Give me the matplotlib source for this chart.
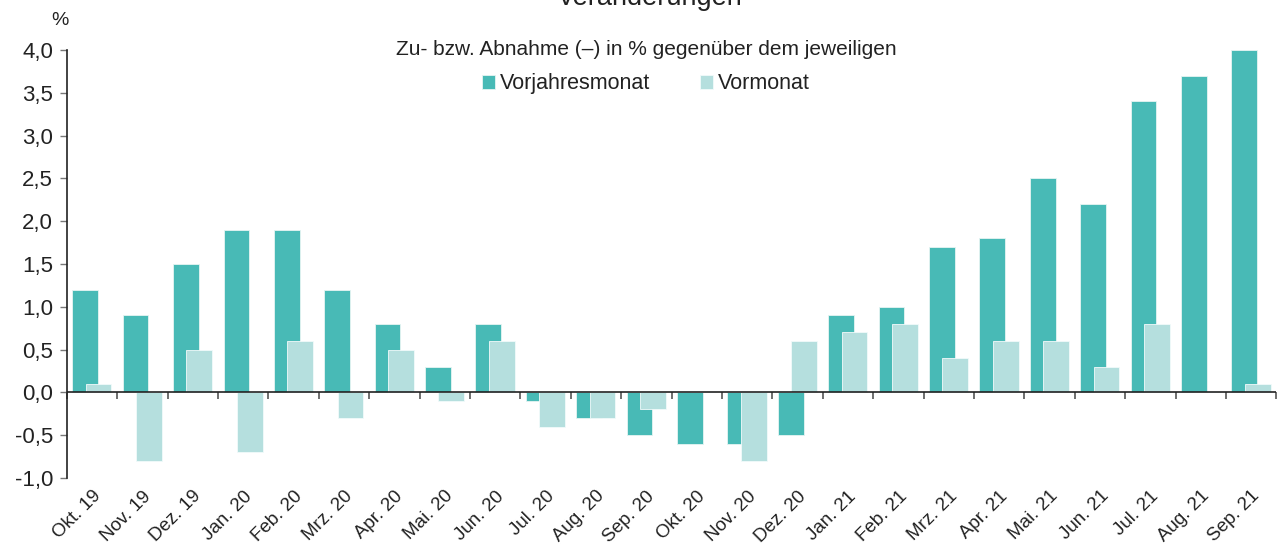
import numpy as np
import matplotlib.pyplot as plt
from matplotlib.ticker import FuncFormatter

plt.rcParams['font.family'] = ['Liberation Sans', 'DejaVu Sans']

# data
months = ["Okt. 19", "Nov. 19", "Dez. 19", "Jan. 20", "Feb. 20", "Mrz. 20",
          "Apr. 20", "Mai. 20", "Jun. 20", "Jul. 20", "Aug. 20", "Sep. 20",
          "Okt. 20", "Nov. 20", "Dez. 20", "Jan. 21", "Feb. 21", "Mrz. 21",
          "Apr. 21", "Mai. 21", "Jun. 21", "Jul. 21", "Aug. 21", "Sep. 21"]
vorjahresmonat = [1.2, 0.9, 1.5, 1.9, 1.9, 1.2, 0.8, 0.3, 0.8, -0.1, -0.3, -0.5,
                  -0.6, -0.6, -0.5, 0.9, 1.0, 1.7, 1.8, 2.5, 2.2, 3.4, 3.7, 4.0]
vormonat = [0.1, -0.8, 0.5, -0.7, 0.6, -0.3, 0.5, -0.1, 0.6, -0.4, -0.3, -0.2,
            0.0, -0.8, 0.6, 0.7, 0.8, 0.4, 0.6, 0.6, 0.3, 0.8, 0.0, 0.1]

teal = "#48BAB6"
light = "#B5DFDE"

fig = plt.figure(figsize=(12.84, 5.5), dpi=100)
ax = fig.add_axes([0.052, 0.131, 0.942, 0.778])

x = np.arange(len(months))
w = 0.51
ax.bar(x - 0.135, vorjahresmonat, width=w, color=teal, edgecolor="#E6F4F3",
       linewidth=0.6, label="Vorjahresmonat", zorder=2)
ax.bar(x + 0.13, vormonat, width=w, color=light, edgecolor="#F2FAFA",
       linewidth=0.6, label="Vormonat", zorder=3)

ax.set_xlim(-0.5, len(months) - 0.5)
ax.set_ylim(-1.0, 4.0)
ax.set_yticks(np.arange(-1.0, 4.01, 0.5))
ax.yaxis.set_major_formatter(FuncFormatter(lambda v, p: f"{v:.1f}".replace(".", ",")))
ax.tick_params(axis="y", labelsize=16, length=5, color="#777777", width=1, pad=5,
               labelcolor="#222222")

for s in ["top", "right", "bottom"]:
    ax.spines[s].set_visible(False)
ax.spines["left"].set_color("#222222")
ax.spines["left"].set_linewidth(1.2)

# month labels at the bottom, no tick marks
ax.set_xticks(x)
ax.set_xticklabels(months, rotation=45, ha="right", rotation_mode="anchor",
                   fontsize=13.5, color="#222222")
ax.tick_params(axis="x", length=0, pad=7)

# zero line with tick marks at the category borders
ax.axhline(0, color="#222222", linewidth=1.2, zorder=4)
sec = ax.secondary_xaxis(0.2)
sec.set_xticks(np.arange(-0.5, len(months), 1.0))
sec.set_xticklabels([])
sec.tick_params(length=5, color="#555555", width=1.2)
sec.spines["bottom"].set_visible(False)

fig.text(0.047, 0.962, "%", fontsize=14, color="#222222", ha="center", va="center")
fig.text(0.506, 0.991, "Veränderungen", fontsize=19.5, color="#222222",
         ha="center", va="baseline")

leg = fig.legend(loc="upper center", bbox_to_anchor=(0.503, 0.962), ncol=2,
                 frameon=False, fontsize=15.5, handlelength=0.6, handleheight=0.6,
                 handletextpad=0.25, columnspacing=2.3, labelspacing=0.65,
                 title="Zu- bzw. Abnahme (–) in % gegenüber dem jeweiligen",
                 title_fontsize=15)
for t in leg.get_texts():
    t.set_color("#222222")
leg.get_title().set_color("#222222")

fig.savefig("out.png", dpi=100)
